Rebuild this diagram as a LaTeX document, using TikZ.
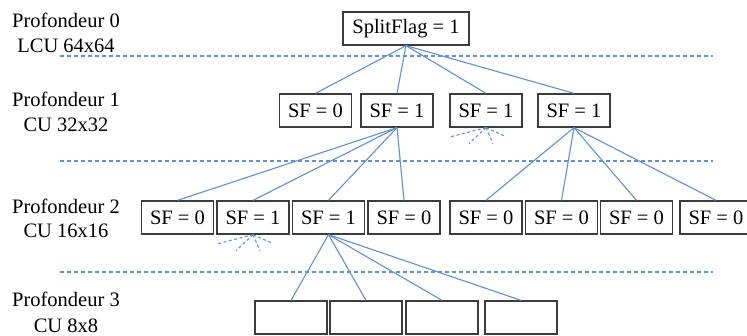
\documentclass[tikz,border=0pt]{standalone}
\usepackage{fontspec}
\setmainfont{Liberation Serif}
\definecolor{linkblue}{RGB}{98,145,210}
\definecolor{boxgray}{RGB}{60,60,60}
\begin{document}
\begin{tikzpicture}[x=1pt,y=-1pt,
  font=\fontsize{20.5}{24}\selectfont,
  cu/.style={draw=boxgray, line width=1.3pt, minimum width=72pt, minimum height=33pt, inner sep=0pt},
  link/.style={draw=linkblue, line width=1.1pt},
  stub/.style={draw=linkblue, line width=1.1pt, dash pattern=on 3pt off 2.5pt},
  levelsep/.style={draw=linkblue, line width=1.1pt, dash pattern=on 4pt off 3pt},
  depthlabel/.style={anchor=base, inner sep=0pt}
]
\useasboundingbox (0,0) rectangle (747,336);

% depth captions
\node[depthlabel] (d0a) at (66,28) {Profondeur 0};
\node[depthlabel] (d0b) at (66,53) {LCU 64x64};
\node[depthlabel] (d1a) at (66,107) {Profondeur 1};
\node[depthlabel] (d1b) at (66,132) {CU 32x32};
\node[depthlabel] (d2a) at (66,214) {Profondeur 2};
\node[depthlabel] (d2b) at (66,238) {CU 16x16};
\node[depthlabel] (d3a) at (66,307) {Profondeur 3};
\node[depthlabel] (d3b) at (66,333) {CU 8x8};

% separators between depths
\draw[levelsep] (60,56) -- (713,56);
\draw[levelsep] (60,161) -- (713,161);
\draw[levelsep] (60,272) -- (713,272);

% depth 0
\node[cu, minimum width=126pt] (root) at (406,28.5) {SplitFlag = 1};

% depth 1
\node[cu] (a1) at (315.5,110.5) {SF = 0};
\node[cu] (a2) at (397,110.5) {SF = 1};
\node[cu] (a3) at (486,110.5) {SF = 1};
\node[cu] (a4) at (574,110.5) {SF = 1};

% depth 2
\node[cu] (b1) at (177.5,217.5) {SF = 0};
\node[cu] (b2) at (253,217.5) {SF = 1};
\node[cu] (b3) at (328.5,217.5) {SF = 1};
\node[cu] (b4) at (404,217.5) {SF = 0};
\node[cu] (b5) at (486,217.5) {SF = 0};
\node[cu] (b6) at (561.5,217.5) {SF = 0};
\node[cu] (b7) at (636.5,217.5) {SF = 0};
\node[cu] (b8) at (716,217.5) {SF = 0};

% depth 3
\node[cu] (c1) at (291,317.5) {};
\node[cu] (c2) at (366,317.5) {};
\node[cu] (c3) at (442,317.5) {};
\node[cu] (c4) at (521,317.5) {};

% splits
\foreach \t in {a1,a2,a3,a4} \draw[link] (root.south) -- (\t.north);
\foreach \t in {b1,b2,b3,b4} \draw[link] (a2.south) -- (\t.north);
\foreach \t in {b5,b6,b7,b8} \draw[link] (a4.south) -- (\t.north);
\foreach \t in {c1,c2,c3,c4} \draw[link] (b3.south) -- (\t.north);

% further splits not shown
\foreach \n in {a3,b2}
  \foreach \dx/\dy in {-35/9,-17/16,7/16,20/9}
    \draw[stub] (\n.south) -- ++(\dx,\dy);
\end{tikzpicture}
\end{document}
